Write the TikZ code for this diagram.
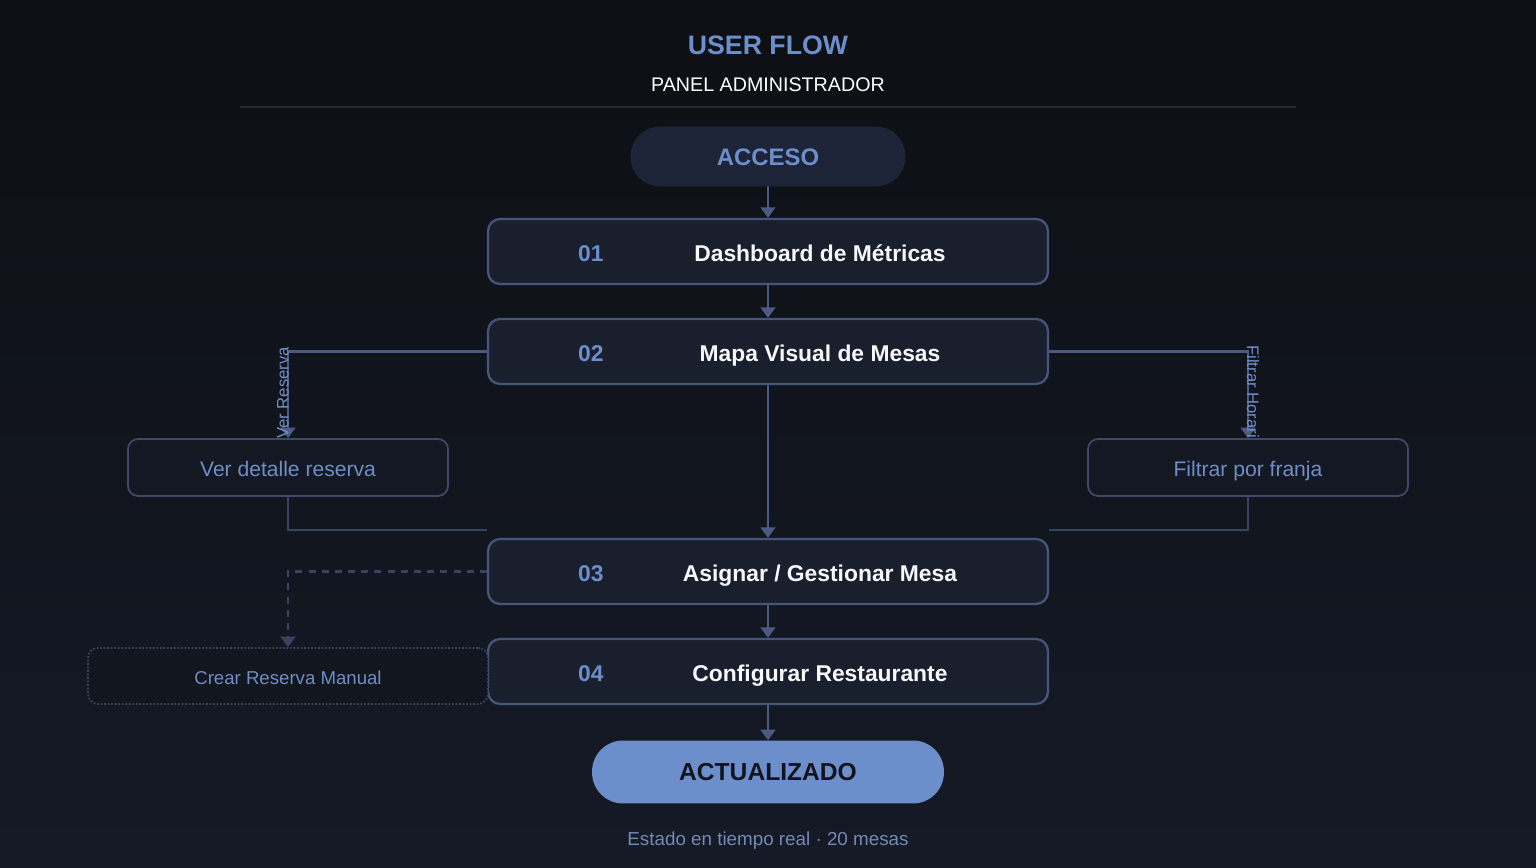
\documentclass[tikz,border=0pt]{standalone}
\usepackage{fontspec}
\setmainfont{Liberation Sans}
\usetikzlibrary{arrows.meta,positioning}

\definecolor{bgtop}{HTML}{0D0F14}
\definecolor{bgbot}{HTML}{151A26}
\definecolor{boxfill}{HTML}{1A1F2D}
\definecolor{boxline}{HTML}{46557C}
\definecolor{sidefill}{HTML}{141823}
\definecolor{sideline}{HTML}{3C4969}
\definecolor{accent}{HTML}{6C8FCC}
\definecolor{soft}{HTML}{6F8DC6}
\definecolor{rulecol}{HTML}{232838}
\definecolor{wire}{HTML}{4A5A82}
\definecolor{dimwire}{HTML}{38445F}
\definecolor{darkink}{HTML}{11141C}
\definecolor{pillfill}{HTML}{1D2437}

\pgfdeclarelayer{bg}
\pgfdeclarelayer{wires}
\pgfsetlayers{bg,wires,main}

\tikzset{
  caps/.style={text height=1em, text depth=0pt},
  stepbox/.style={draw=boxline, fill=boxfill, line width=1.3pt, rounded corners=0.24cm,
    minimum width=11.2cm, minimum height=1.3cm},
  sidebox/.style={draw=sideline, fill=sidefill, line width=1pt, rounded corners=0.2cm,
    minimum width=6.4cm, minimum height=1.14cm, text=soft, caps, font=\fontsize{12}{14}\selectfont},
  manualbox/.style={draw=dimwire, densely dotted, fill=darkink!60!sidefill, line width=1pt,
    rounded corners=0.2cm, minimum width=8cm, minimum height=1.12cm, text=soft, caps,
    font=\fontsize{10.6}{13}\selectfont},
  pill/.style={rounded corners=0.58cm, minimum width=5.48cm, minimum height=1.18cm, caps},
  num/.style={text=accent, caps, font=\bfseries\fontsize{13}{15}\selectfont},
  steptitle/.style={text=white!94!accent, caps, font=\bfseries\fontsize{13}{15}\selectfont},
  wirelbl/.style={text=soft, font=\fontsize{9.5}{11}\selectfont, inner sep=0pt},
  arr/.style={draw=wire, line width=1.2pt, -{Triangle[width=8.5pt,length=6pt]}},
}

\begin{document}
\begin{tikzpicture}[x=0.02cm,y=-0.02cm]
  \useasboundingbox (0,0) rectangle (1536,868);
  \begin{pgfonlayer}{bg}
    \shade[top color=bgtop,bottom color=bgbot] (0,0) rectangle (1536,868);
  \end{pgfonlayer}

  % header
  \node[text=accent, caps, font=\bfseries\fontsize{15.2}{18}\selectfont] (title) at (768,46) {USER FLOW};
  \node[text=white, caps, font=\fontsize{11.2}{13}\selectfont] (sub) at (768,82.5) {PANEL ADMINISTRADOR};
  \draw[rulecol, line width=1.5pt] (240,107) -- (1296,107);

  % main flow
  \node[pill, fill=pillfill, draw=rulecol, text=accent,
    font=\bfseries\fontsize{13.6}{16}\selectfont] (acceso) at (768,156.5) {ACCESO};
  \node[stepbox] (s1) at (768,251.5) {};
  \node[stepbox] (s2) at (768,351.5) {};
  \node[stepbox] (s3) at (768,571.5) {};
  \node[stepbox] (s4) at (768,671.5) {};
  \node[pill, fill=accent, minimum width=7.04cm, minimum height=1.26cm, rounded corners=0.62cm,
    text=darkink, font=\bfseries\fontsize{14}{17}\selectfont] (fin) at (768,772) {ACTUALIZADO};

  \node[num] at ([xshift=2.08cm,yshift=-0.02cm]s1.west) {01};
  \node[steptitle] at ([xshift=1.04cm,yshift=-0.02cm]s1.center) {Dashboard de Métricas};
  \node[num] at ([xshift=2.08cm,yshift=-0.02cm]s2.west) {02};
  \node[steptitle] at ([xshift=1.04cm,yshift=-0.02cm]s2.center) {Mapa Visual de Mesas};
  \node[num] at ([xshift=2.08cm,yshift=-0.02cm]s3.west) {03};
  \node[steptitle] at ([xshift=1.04cm,yshift=-0.02cm]s3.center) {Asignar / Gestionar Mesa};
  \node[num] at ([xshift=2.08cm,yshift=-0.02cm]s4.west) {04};
  \node[steptitle] at ([xshift=1.04cm,yshift=-0.02cm]s4.center) {Configurar Restaurante};

  % side branches
  \node[sidebox] (ver) at (288,467.5) {Ver detalle reserva};
  \node[sidebox] (filtro) at (1248,467.5) {Filtrar por franja};
  \node[manualbox] (crear) at (288,676) {Crear Reserva Manual};

  \node[text=soft!80!gray, caps, font=\fontsize{10.7}{13}\selectfont] (foot) at (768,836.5)
    {Estado en tiempo real · 20 mesas};

  \coordinate (j1) at ([yshift=0.16cm]s3.north west);
  \coordinate (j2) at ([yshift=0.16cm]s3.north east);

  \begin{pgfonlayer}{wires}
    \draw[arr] (acceso.south) -- (s1.north);
    \draw[arr] (s1.south) -- (s2.north);
    \draw[arr] (s2.south) -- (s3.north);
    \draw[arr] (s3.south) -- (s4.north);
    \draw[arr] (s4.south) -- (fin.north);
    \draw[arr] (s2.west) -| (ver.north);
    \draw[arr] (s2.east) -| (filtro.north);
    \draw[draw=dimwire, line width=1pt] (ver.south) |- (j1);
    \draw[draw=dimwire, line width=1pt] (filtro.south) |- (j2);
    \draw[arr, draw=dimwire, dash pattern=on 4pt off 3.5pt] (s3.west) -| (crear.north);
    \node[wirelbl, rotate=90] (lv) at (283,393) {Ver Reserva};
    \node[wirelbl, rotate=-90, anchor=west] (lf) at (1253,345) {Filtrar Horario};
  \end{pgfonlayer}
\end{tikzpicture}
\end{document}
